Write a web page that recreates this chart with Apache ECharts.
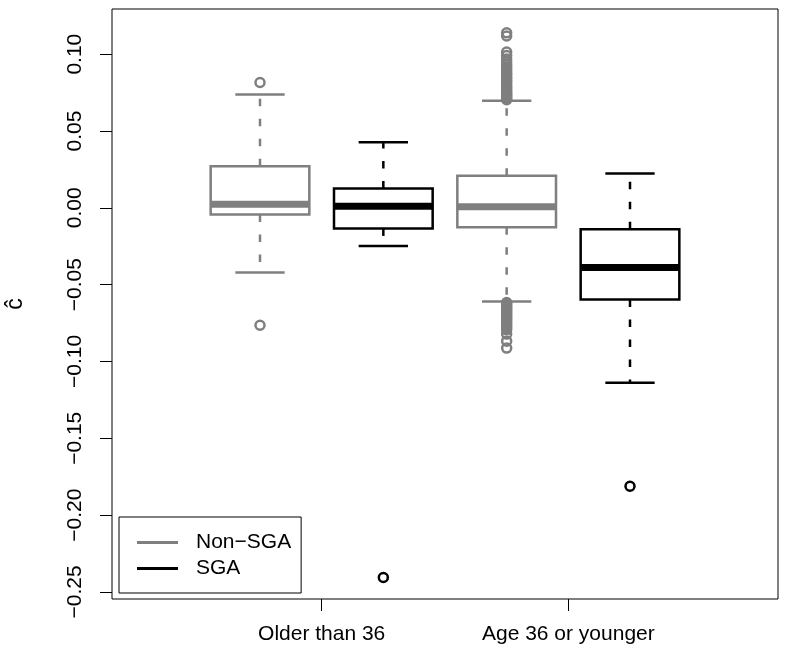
<!DOCTYPE html>
<html>
<head>
<meta charset="utf-8">
<script src="https://cdn.jsdelivr.net/npm/echarts@6/dist/echarts.min.js"></script>
<style>
html,body{margin:0;padding:0;background:#fff;}
#chart{width:788px;height:658px;}
</style>
</head>
<body>
<div id="chart"></div>
<script>
// ---- data ----
const categories = ["Older than 36", "Age 36 or younger"];
const categoryTickPos = [1.5, 3.5];
const seriesNames = ["Non\u2212SGA", "SGA"];
const nonSgaPos = [1, 3];
const sgaPos = [2, 4];
// [lower whisker, Q1, median, Q3, upper whisker]
const nonSgaStats = [
  [-0.0421, -0.0043, 0.0024, 0.0271, 0.0738],
  [-0.0609, -0.0126, 0.0007, 0.0208, 0.0697]
];
const sgaStats = [
  [-0.0249, -0.0134, 0.0011, 0.0126, 0.0426],
  [-0.1139, -0.0596, -0.0388, -0.0139, 0.0224]
];
const nonSgaOutliers1 = [0.0816, -0.0764];
const nonSgaOutliers2 = [
  0.1139, 0.1118, 0.1014, 0.0992, 0.0968, 0.0949, 0.0931, 0.0917, 0.0903,
  0.0889, 0.0876, 0.0866, 0.0852, 0.0841, 0.0829, 0.0818, 0.0806, 0.0792,
  0.0781, 0.0771, 0.0759, 0.0748, 0.0739, 0.0729, 0.0721, 0.0712, 0.0704,
  -0.0616, -0.0624, -0.0636, -0.0645, -0.0657, -0.0664, -0.0676, -0.0688,
  -0.0697, -0.0709, -0.0718, -0.0731, -0.0742, -0.0755, -0.0768, -0.0780,
  -0.0794, -0.0822, -0.0868, -0.0913
];
const sgaOutliers1 = [-0.2406];
const sgaOutliers2 = [-0.1812];
const yTicks = [-0.25, -0.20, -0.15, -0.10, -0.05, 0.00, 0.05, 0.10];

// ---- styles ----
const GRAY = '#7f7f7f';
const BLACK = '#000000';
const FONT = 'Liberation Sans, Arial, Helvetica, sans-serif';

function boxRender(color) {
  return function (params, api) {
    const x = api.value(0);
    const lo = api.value(1), q1 = api.value(2), med = api.value(3), q3 = api.value(4), hi = api.value(5);
    const w = api.size([0.8, 0])[0];
    const cx = api.coord([x, med])[0];
    const y = v => api.coord([x, v])[1];
    const lw = 2.5;
    const dash = [7.5, 12.5];
    const children = [
      {type: 'line', shape: {x1: cx, y1: y(q3), x2: cx, y2: y(hi)},
       style: {stroke: color, lineWidth: lw, lineDash: dash}},
      {type: 'line', shape: {x1: cx, y1: y(q1), x2: cx, y2: y(lo)},
       style: {stroke: color, lineWidth: lw, lineDash: dash}},
      {type: 'line', shape: {x1: cx - w / 4, y1: y(hi), x2: cx + w / 4, y2: y(hi)},
       style: {stroke: color, lineWidth: lw}},
      {type: 'line', shape: {x1: cx - w / 4, y1: y(lo), x2: cx + w / 4, y2: y(lo)},
       style: {stroke: color, lineWidth: lw}},
      {type: 'rect', shape: {x: cx - w / 2, y: y(q3), width: w, height: y(q1) - y(q3)},
       style: {stroke: color, lineWidth: lw, fill: 'rgba(0,0,0,0)'}},
      {type: 'line', shape: {x1: cx - w / 2, y1: y(med), x2: cx + w / 2, y2: y(med)},
       style: {stroke: color, lineWidth: 7}}
    ];
    return {type: 'group', children: children};
  };
}

function boxData(pos, stats) {
  return pos.map((p, i) => [p].concat(stats[i]));
}
function outlierData(p, arr) {
  return arr.map(v => [p, v]);
}

const chart = echarts.init(document.getElementById('chart'), null, {renderer: 'canvas'});
const option = {
  backgroundColor: '#fff',
  animation: false,
  grid: {left: 112, right: 10, top: 9, bottom: 59, show: true,
         outerBoundsMode: 'none', containLabel: false,
         borderColor: '#000', borderWidth: 1, backgroundColor: 'transparent'},
  legend: {
    left: 119, top: 517, orient: 'vertical', selectedMode: false,
    borderColor: '#000', borderWidth: 1, borderRadius: 0,
    padding: [15, 10, 14, 18], itemGap: 5, itemWidth: 41, itemHeight: 3,
    textStyle: {fontFamily: FONT, fontSize: 21, color: '#000', lineHeight: 21, padding: [0, 0, 0, 13]},
    data: [
      {name: seriesNames[0], icon: 'rect', itemStyle: {color: GRAY}},
      {name: seriesNames[1], icon: 'rect', itemStyle: {color: BLACK}}
    ]
  },
  xAxis: {
    type: 'value', min: -0.2, max: 5.2, position: 'bottom',
    splitLine: {show: false},
    axisLine: {show: false, onZero: false},
    axisTick: {show: true, inside: false, length: 12, customValues: categoryTickPos, lineStyle: {color: '#000', width: 1}},
    axisLabel: {
      customValues: categoryTickPos, margin: 25,
      fontFamily: FONT, fontSize: 21, color: '#000',
      formatter: v => categories[categoryTickPos.indexOf(v)]
    }
  },
  yAxis: {
    type: 'value', min: -0.2546, max: 0.1294, position: 'left',
    name: '\u0109', nameLocation: 'middle', nameRotate: 90, nameGap: 85,
    nameTextStyle: {fontFamily: FONT, fontSize: 23, color: '#000'},
    splitLine: {show: false},
    axisLine: {show: false, onZero: false},
    axisTick: {show: true, inside: false, length: 12, customValues: yTicks, lineStyle: {color: '#000', width: 1}},
    axisLabel: {
      customValues: yTicks, rotate: 90, margin: 26,
      fontFamily: FONT, fontSize: 21, color: '#000',
      formatter: v => (v < 0 ? '\u2212' : '') + Math.abs(v).toFixed(2)
    }
  },
  series: [
    {name: seriesNames[0], type: 'custom', renderItem: boxRender(GRAY),
     itemStyle: {color: GRAY}, encode: {x: 0, y: [1, 2, 3, 4, 5]},
     data: boxData(nonSgaPos, nonSgaStats), clip: false, z: 2},
    {name: seriesNames[1], type: 'custom', renderItem: boxRender(BLACK),
     itemStyle: {color: BLACK}, encode: {x: 0, y: [1, 2, 3, 4, 5]},
     data: boxData(sgaPos, sgaStats), clip: false, z: 2},
    {name: 'nonSgaOutliers', type: 'scatter', symbol: 'circle', symbolSize: 9,
     itemStyle: {color: 'rgba(0,0,0,0)', borderColor: GRAY, borderWidth: 2.5, opacity: 1},
     data: outlierData(nonSgaPos[0], nonSgaOutliers1).concat(outlierData(nonSgaPos[1], nonSgaOutliers2)), z: 3},
    {name: 'sgaOutliers', type: 'scatter', symbol: 'circle', symbolSize: 9,
     itemStyle: {color: 'rgba(0,0,0,0)', borderColor: BLACK, borderWidth: 2.5, opacity: 1},
     data: outlierData(sgaPos[0], sgaOutliers1).concat(outlierData(sgaPos[1], sgaOutliers2)), z: 3}
  ]
};
chart.setOption(option);
</script>
</body>
</html>
